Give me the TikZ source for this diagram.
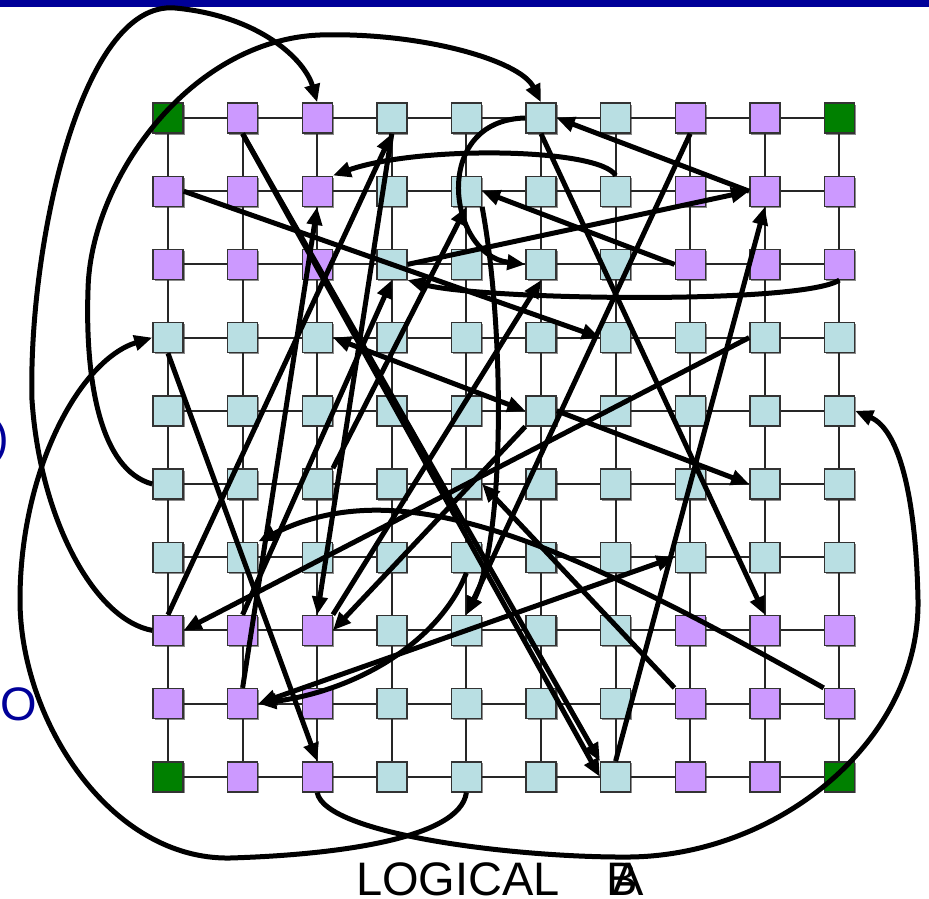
\documentclass[tikz,border=0pt]{standalone}
\usepackage{fontspec}
\setmainfont{Liberation Sans}
\usetikzlibrary{arrows.meta,shadows}

\definecolor{cellC}{RGB}{185,223,227}
\definecolor{cellP}{RGB}{204,153,255}
\definecolor{cellG}{RGB}{0,128,0}
\definecolor{barblue}{RGB}{0,0,153}

\begin{document}
\begin{tikzpicture}[x=1pt, y=-1pt,
    tile/.style={draw=black!80, line width=1.4pt, minimum size=30pt, inner sep=0pt,
      drop shadow={shadow xshift=1.5pt, shadow yshift=-1.5pt, fill=black!45, opacity=1}},
    link/.style={line width=1.9pt, black!85},
    msg/.style={-{Triangle[length=18pt,width=15pt]}, line width=5pt},
    duplex/.style={{Triangle[length=18pt,width=15pt]}-{Triangle[length=18pt,width=15pt]}, line width=5pt},
    bigtext/.style={font=\fontsize{47}{50}\selectfont, inner sep=0pt}]
  \useasboundingbox (0,0) rectangle (929,899);
  % title bar
  \fill[barblue] (0,0) rectangle (929,7);

  % Tiles: t<col><row>
  \foreach \r in {0,...,9} {
    \foreach \c in {0,...,9} {
      \pgfmathtruncatemacro{\kind}{((\r<3)||(\r>6))&&((\c<3)||(\c>6)) ? (((\r==0)||(\r==9))&&((\c==0)||(\c==9)) ? 2 : 1) : 0}
      \ifcase\kind \def\tilecol{cellC}\or \def\tilecol{cellP}\or \def\tilecol{cellG}\fi
      \node[tile, fill=\tilecol] (t\c\r) at ({168+74.6*\c},{118+73.2*\r}) {};
    }
  }
  % Mesh links
  \foreach \r in {0,...,9} {
    \foreach \c [evaluate=\c as \n using int(\c+1)] in {0,...,8} {
      \draw[link] (t\c\r) -- (t\n\r);
      \draw[link] (t\r\c) -- (t\r\n);
    }
  }

  % Long curves round the outside
  \draw[msg] (t07.west) .. controls (95,620) and (40,520) .. (32,400)
    .. controls (28,250) and (80,0) .. (175,8)
    .. controls (260,16) and (305,60) .. (t20.north);
  \draw[msg] (t05.west) .. controls (100,470) and (85,380) .. (88,290)
    .. controls (90,180) and (190,40) .. (320,35)
    .. controls (420,32) and (520,60) .. (t50.north);
  \draw[msg] (t49.south) .. controls (460,840) and (330,855) .. (230,858)
    .. controls (110,860) and (20,720) .. (20,600)
    .. controls (20,470) and (80,360) .. (t03.west);
  \draw[msg] (t29.south) .. controls (325,835) and (520,858) .. (630,857)
    .. controls (780,855) and (920,740) .. (918,600)
    .. controls (916,500) and (900,430) .. (t94.east);

  % Curves inside the mesh
  \draw[msg] (t61.north) .. controls (600,148) and (420,145) .. (t21.north east);
  \draw[msg] (t50.west) .. controls (430,120) and (448,255) .. (t52.west);
  \draw[msg] (t92.south) .. controls (800,305) and (480,300) .. (t32.south east);
  \draw[msg] (t98.north west) .. controls (560,540) and (400,470) .. (t16.north east);
  \draw[msg] (t46.south) .. controls (440,640) and (360,690) .. (t18.east);
  \draw[msg] (t41.south east) .. controls (505,330) and (505,540) .. (t47.north);

  % Straight messages
  \draw[msg] (t07.north) -- (t30.south);
  \draw[msg] (t30.south) -- (t27.north);
  \draw[msg] (t27.north east) -- (t52.south);
  \draw[msg] (t54.south west) -- (t27.east);
  \draw[msg] (t18.north) -- (t21.south);
  \draw[msg] (t17.north) -- (t32.south);
  \draw[msg] (t10.south) -- (t69.north west);
  \draw[msg] (t10.south) -- (t69.west);
  \draw[msg] (t03.south) -- (t29.north);
  \draw[msg] (t83.west) -- (t07.east);
  \draw[duplex] (t23.east) -- (t54.west);
  \draw[msg] (t54.east) -- (t85.west);
  \draw[msg] (t78.north west) -- (t45.east);
  \draw[duplex] (t18.east) -- (t76.west);
  \draw[msg] (t81.west) -- (t50.east);
  \draw[msg] (t32.east) -- (t81.west);
  \draw[msg] (t69.north) -- (t81.south);
  \draw[msg] (t72.west) -- (t41.east);
  \draw[msg] (t01.east) -- (t63.west);
  \draw[msg] (t50.south) -- (t87.north);
  \draw[msg] (t70.south) -- (t47.north);
  \draw[msg] (t25.north east) -- (t41.south);

  % Slide text
  \node[bigtext, text=barblue, anchor=base east] (pr) at (9,453) {)};
  \node[bigtext, text=barblue, anchor=base east] (to) at (37,720) {TO};
  \node[bigtext, anchor=base west] (lg) at (356,895) {LOGICAL};
  \node[bigtext, anchor=base west] (lb) at (606,895) {B};
  \node[bigtext, anchor=base west] (la) at (612,895) {A};
\end{tikzpicture}
\end{document}
